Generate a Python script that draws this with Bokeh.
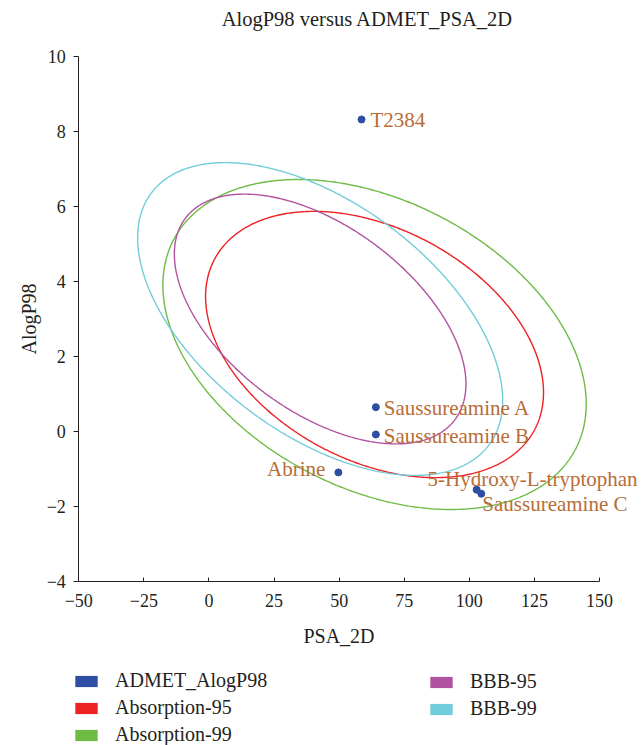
import numpy as np
from bokeh.plotting import figure
from bokeh.models import (Range1d, ColumnDataSource, LabelSet, Label, Legend, LegendItem,
                          CustomJSTickFormatter, FixedTicker)
from bokeh.embed import file_html
from bokeh.resources import INLINE

# ---------------- data ----------------
compound_names = ["T2384", "Saussureamine A", "Saussureamine B", "Abrine",
                  "5-Hydroxy-L-tryptophan", "Saussureamine C"]
psa_2d = [58.6, 64.1, 64.1, 49.7, 102.8, 104.6]
alogp98 = [8.32, 0.65, -0.08, -1.09, -1.55, -1.66]

ellipse_names = ["Absorption-95", "Absorption-99", "BBB-95", "BBB-99"]
ellipse_center_psa = [63.6, 63.6, 42.7, 42.7]
ellipse_center_alogp = [2.32, 2.32, 3.0, 3.0]
ellipse_half_psa = [64.9, 81.3, 56.0, 70.1]
ellipse_half_alogp = [3.55, 4.40, 3.33, 4.17]
ellipse_corr = [-0.36, -0.36, -0.52, -0.52]

x_ticks = [-50, -25, 0, 25, 50, 75, 100, 125, 150]
y_ticks = [-4, -2, 0, 2, 4, 6, 8, 10]

# ---------------- layout / styles ----------------
W, H = 641, 745
AX_L, AX_R, AX_T, AX_B = 78.3, 599.0, 56.0, 581.0   # pixel box of the axes
x0, x1 = x_ticks[0], x_ticks[-1]
y0, y1 = y_ticks[0], y_ticks[-1]
sx = (AX_R - AX_L) / (x1 - x0)
sy = (AX_B - AX_T) / (y1 - y0)
xr = Range1d(x0 - AX_L / sx, x1 + (W - AX_R) / sx)
yr = Range1d(y0 - (H - AX_B) / sy, y1 + AX_T / sy)

point_color = "#2D4EA2"
ellipse_colors = ["#ED2024", "#6EBB46", "#B253A0", "#70CDD9"]
label_color = "#B86D37"
ink = "#231F20"
FONT = "Liberation Serif"

label_dx = [9, 8, 8, -13, -49, 1]
label_dy = [0, -1, -1, 3, 11, -10]
label_align = ["left", "left", "left", "right", "left", "left"]

p = figure(width=W, height=H, output_backend="svg", toolbar_location=None,
           x_range=xr, y_range=yr,
           min_border_left=0, min_border_right=0, min_border_top=0, min_border_bottom=0)
p.outline_line_color = None
p.grid.visible = False

fmt = CustomJSTickFormatter(code="return tick < 0 ? '\\u2212' + Math.abs(tick) : tick.toString();")

xa = p.xaxis[0]
xa.fixed_location = y0
xa.bounds = (x0, x1)
xa.ticker = FixedTicker(ticks=x_ticks)
xa.formatter = fmt
xa.axis_label = "PSA_2D"
xa.major_tick_in = 4
xa.major_tick_out = 0
xa.minor_tick_line_color = None
xa.major_label_standoff = 12
xa.axis_label_standoff = 15

ya = p.yaxis[0]
ya.fixed_location = x0
ya.bounds = (y0, y1)
ya.ticker = FixedTicker(ticks=y_ticks)
ya.formatter = fmt
ya.axis_label = "AlogP98"
ya.major_tick_in = 0
ya.major_tick_out = 5
ya.minor_tick_line_color = None
ya.major_label_standoff = 8
ya.axis_label_standoff = 3

for ax in (xa, ya):
    ax.axis_line_color = ink
    ax.major_tick_line_color = ink
    ax.major_label_text_font = FONT
    ax.major_label_text_font_size = "18px"
    ax.major_label_text_color = ink
    ax.axis_label_text_font = FONT
    ax.axis_label_text_font_size = "20px"
    ax.axis_label_text_font_style = "normal"
    ax.axis_label_text_color = ink

title = Label(x=367, y=H - 18, x_units="screen", y_units="screen",
              text="AlogP98 versus ADMET_PSA_2D", text_align="center",
              text_baseline="middle", text_font=FONT, text_font_size="20.5px",
              text_color=ink)
p.add_layout(title)

# ellipses (confidence-ellipse parametrisation)
t = np.linspace(0, 2 * np.pi, 721)
for cx, cy, w, h, r, c in zip(ellipse_center_psa, ellipse_center_alogp, ellipse_half_psa,
                              ellipse_half_alogp, ellipse_corr, ellipse_colors):
    ex = cx + w * np.cos(t)
    ey = cy + h * (r * np.cos(t) + np.sqrt(1 - r * r) * np.sin(t))
    p.line(ex, ey, line_color=c, line_width=1.4)

src = ColumnDataSource(dict(x=psa_2d, y=alogp98, name=compound_names,
                            dx=label_dx, dy=label_dy, align=label_align))
p.scatter("x", "y", source=src, size=7, fill_color=point_color, line_color=point_color)

labels = LabelSet(x="x", y="y", text="name", source=src, x_offset="dx", y_offset="dy",
                  text_align="align", text_baseline="middle", text_font=FONT,
                  text_font_size="21px", text_color=label_color)
p.add_layout(labels)

# ---------------- legend ----------------
# zero-area swatch renderers (sitting on each series' own centre) so the legend
# shows filled rectangles like the reference
legend_names = ["ADMET_AlogP98"] + ellipse_names
legend_colors = [point_color] + ellipse_colors
anchor_x = [psa_2d[0]] + ellipse_center_psa
anchor_y = [alogp98[0]] + ellipse_center_alogp
items = []
for n, c, ax_, ay_ in zip(legend_names, legend_colors, anchor_x, anchor_y):
    r = p.quad(left=[ax_], right=[ax_], top=[ay_], bottom=[ay_],
               fill_color=c, fill_alpha=1.0, line_color=None)
    items.append(LegendItem(label=n, renderers=[r]))

def make_legend(its, loc):
    return Legend(items=its, location=loc, orientation="vertical",
                  glyph_width=28, glyph_height=14, label_standoff=15,
                  label_height=22, spacing=4, padding=0, margin=0,
                  border_line_color=None, background_fill_alpha=0,
                  inactive_fill_alpha=0,
                  label_text_font=FONT, label_text_font_size="20px",
                  label_text_color=ink)

p.add_layout(make_legend(items[0:3], (72, -1)))
p.add_layout(make_legend(items[3:5], (427, 25)))

open("out.html", "w").write(file_html(p, INLINE))
